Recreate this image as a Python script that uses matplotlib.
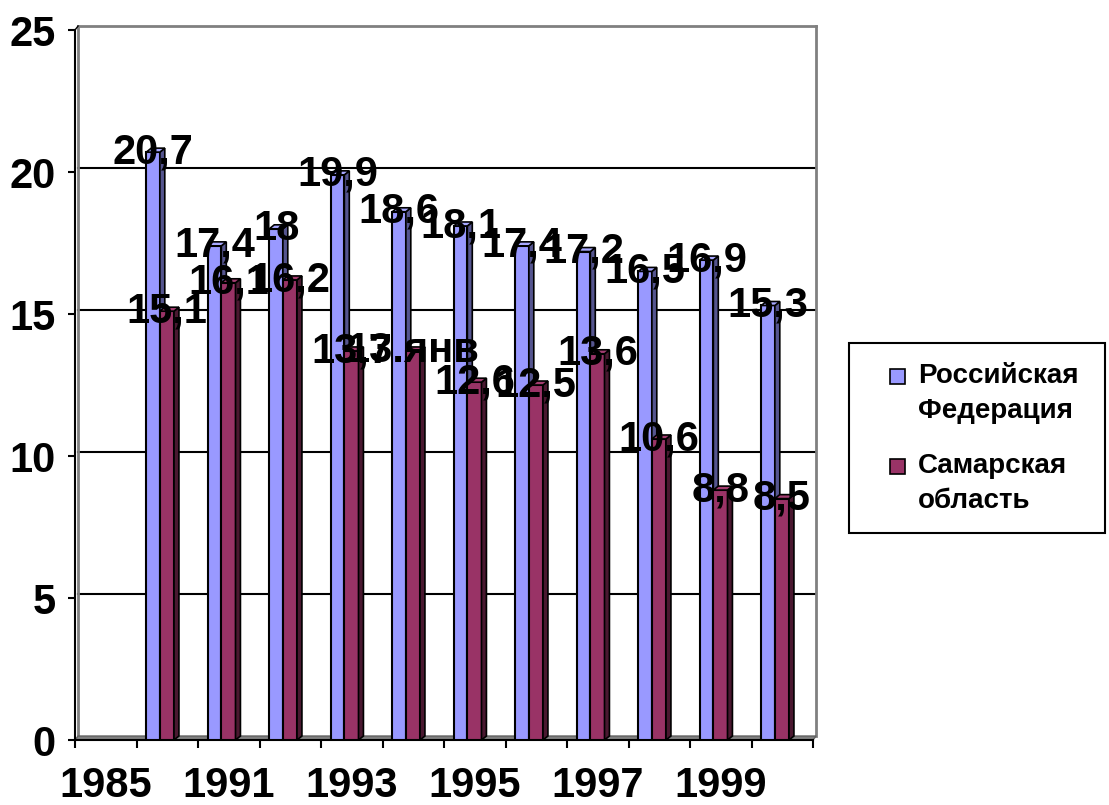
import numpy as np
import matplotlib
matplotlib.use('Agg')
import matplotlib.pyplot as plt
from matplotlib.patches import Polygon, Rectangle

plt.rcParams['font.family'] = ['Liberation Sans', 'DejaVu Sans']
plt.rcParams['font.weight'] = 'bold'

# data (1985 has no bars)
years = ['1985', '1990', '1991', '1992', '1993', '1994', '1995',
         '1996', '1997', '1998', '1999', '2000']
rf = [np.nan, 20.7, 17.4, 18, 19.9, 18.6, 18.1, 17.4, 17.2, 16.5, 16.9, 15.3]
samara = [np.nan, 15.1, 16.1, 16.2, 13.7, 13.7, 12.6, 12.5, 13.6, 10.6, 8.8, 8.5]
# labels as printed on the chart (Excel turned one value into a date)
rf_labels = ['', '20,7', '17,4', '18', '19,9', '18,6', '18,1', '17,4', '17,2', '16,5', '16,9', '15,3']
samara_labels = ['', '15,1', '16,1', '16,2', '13,7', '13.янв', '12,6', '12,5', '13,6', '10,6', '8,8', '8,5']
series_names = ['Российская Федерация', 'Самарская область']

W, H = 1109, 805
fig = plt.figure(figsize=(W / 100, H / 100), dpi=100)
ax = fig.add_axes([75 / W, 65 / H, 738 / W, 710 / H])

x = np.arange(len(years))
dx, dy = 0.08, 0.14   # fake 3d depth
wx, wy = 0.05, 0.14   # offset of back wall

# back wall and gridlines
for v in [5, 10, 15, 20]:
    ax.plot([-0.5 + wx, 11.5 + wx], [v + wy, v + wy], color='black', lw=1.5, zorder=1, clip_on=False)
wall = dict(color='#808080', lw=2, zorder=1, clip_on=False)
ax.plot([-0.5 + wx, -0.5 + wx], [wy, 25 + wy], **wall)
ax.plot([-0.5 + wx, 11.5 + wx], [25 + wy, 25 + wy], **wall)
ax.plot([11.5 + wx, 11.5 + wx], [wy, 25 + wy], **wall)
ax.plot([-0.5, -0.5 + wx], [25, 25 + wy], color='black', lw=1, clip_on=False)

# floor
ax.add_patch(Polygon([(-0.5, 0), (11.5, 0), (11.5 + wx, wy), (-0.5 + wx, wy)],
                     closed=True, facecolor='#808080', edgecolor='#606060', lw=1, zorder=1.5, clip_on=False))


def bar3d(x0, w, h, front, side, top):
    if np.isnan(h):
        return
    ax.bar(x0, h, w, align='edge', color=front, edgecolor='black', lw=1.5, zorder=3)
    ax.add_patch(Polygon([(x0 + w, 0), (x0 + w + dx, dy), (x0 + w + dx, h + dy), (x0 + w, h)],
                         closed=True, facecolor=side, edgecolor='black', lw=1.2, zorder=3))
    ax.add_patch(Polygon([(x0, h), (x0 + dx, h + dy), (x0 + w + dx, h + dy), (x0 + w, h)],
                         closed=True, facecolor=top, edgecolor='black', lw=1.2, zorder=3))


b_off, b_w = -0.34, 0.22
r_off, r_w = -0.12, 0.23
for i in range(len(years)):
    bar3d(x[i] + b_off, b_w, rf[i], '#9999FF', '#55558f', '#a8a8ff')
    bar3d(x[i] + r_off, r_w, samara[i], '#993366', '#4a1830', '#a33d70')

# value labels
for i in range(len(years)):
    if not np.isnan(rf[i]):
        ax.annotate(rf_labels[i], (x[i] + b_off + b_w / 2, rf[i]), xytext=(0, -8),
                    textcoords='offset points', ha='center', va='baseline',
                    fontsize=30, fontweight='bold', zorder=5, annotation_clip=False)
for i in range(len(years)):
    if not np.isnan(samara[i]):
        ax.annotate(samara_labels[i], (x[i] + r_off + r_w / 2, samara[i]), xytext=(0, -8),
                    textcoords='offset points', ha='center', va='baseline',
                    fontsize=30, fontweight='bold', zorder=5, annotation_clip=False)

ax.set_xlim(-0.5, 11.5)
ax.set_ylim(0, 25)
ax.set_yticks([0, 5, 10, 15, 20, 25])
ax.tick_params(axis='y', labelsize=30, length=5, width=1.5, pad=9, direction='out')
for t in ax.get_yticklabels():
    t.set_fontweight('bold')

ax.set_xticks(x[::2])
ax.set_xticklabels(years[::2], fontsize=30, fontweight='bold')
ax.set_xticks(np.arange(-0.5, 12, 1), minor=True)
ax.tick_params(axis='x', which='major', length=0, pad=19)
ax.tick_params(axis='x', which='minor', length=6, width=1.5, direction='out')

ax.spines['top'].set_visible(False)
ax.spines['right'].set_visible(False)
ax.spines['left'].set_linewidth(1.5)
ax.spines['bottom'].set_linewidth(1.5)
ax.patch.set_alpha(0)


# legend drawn by hand so the squares sit on the first line
def fx(px):
    return px / W


def fy(py):
    return 1 - py / H


fig.add_artist(Rectangle((fx(849), fy(533)), fx(1105) - fx(849), fy(343) - fy(533),
                         transform=fig.transFigure, facecolor='white', edgecolor='black', lw=1.5))
leg_colors = ['#9999FF', '#993366']
leg_base = [383, 473]
for name, col, base in zip(series_names, leg_colors, leg_base):
    fig.add_artist(Rectangle((fx(890), fy(base + 1)), fx(15), 15 / H, transform=fig.transFigure,
                             facecolor=col, edgecolor='black', lw=1.2))
    for j, line in enumerate(name.split(' ')):
        fig.text(fx(918), fy(base + j * 35), line, fontsize=20, fontweight='bold',
                 ha='left', va='baseline')

fig.savefig('out.png', dpi=100)
